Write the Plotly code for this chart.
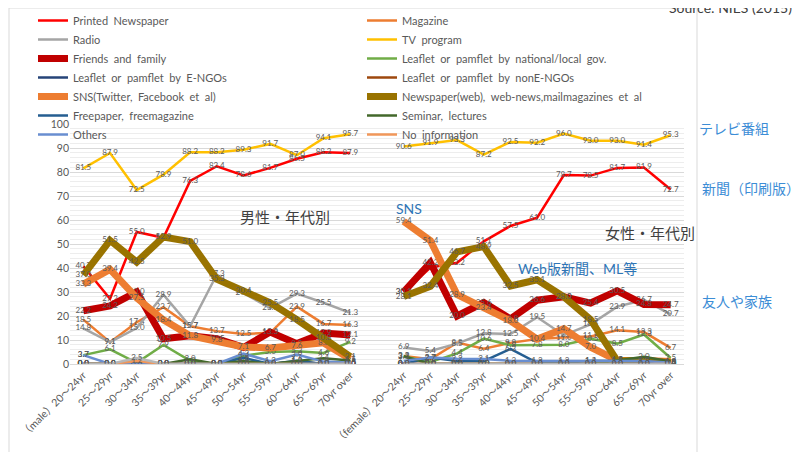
import plotly.graph_objects as go

# ---------------- data ----------------
age_labels = ["20～24yr", "25～29yr", "30～34yr", "35～39yr", "40～44yr", "45～49yr",
              "50～54yr", "55～59yr", "60～64yr", "65～69yr", "70yr over"]
male_prefix = "（male）"
female_prefix = "（female）"

series_names = [
    "Printed\u2002Newspaper", "Magazine", "Radio", "TV\u2002program", "Friends\u2002and\u2002family",
    "Leaflet\u2002or\u2002pamflet\u2002by\u2002national/local\u2002gov.",
    "Leaflet\u2002or\u2002pamflet\u2002by\u2002E-NGOs", "Leaflet\u2002or\u2002pamflet\u2002by\u2002nonE-NGOs",
    "SNS(Twitter,\u2002Facebook\u2002et\u2002al)",
    "Newspaper(web),\u2002web-news,mailmagazines\u2002et\u2002al",
    "Freepaper,\u2002freemagazine", "Seminar,\u2002lectures", "Others", "No\u2002information", "(other)"
]

printed_m = [40.7, 27.2, 55.0, 52.6, 76.3, 82.4, 78.6, 81.7, 85.5, 88.2, 87.9]
printed_f = [30.0, 40.2, 42.2, 51.1, 57.5, 61.0, 78.7, 78.5, 81.7, 81.9, 72.7]
magazine_m = [18.5, 9.1, 17.4, 23.7, 15.7, 13.7, 12.5, 13.0, 23.9, 16.7, 16.3]
magazine_f = [3.3, 2.0, 8.9, 6.4, 8.8, 10.4, 11.0, 11.5, 14.1, 13.3, 6.7]
radio_m = [14.8, 9.1, 15.0, 28.9, 15.7, 37.3, 29.5, 23.3, 29.3, 25.5, 21.3]
radio_f = [6.9, 5.4, 8.5, 12.8, 12.5, 19.5, 12.0, 16.5, 23.9, 26.7, 20.7]
tv_m = [81.5, 87.9, 72.5, 78.9, 88.2, 88.2, 89.3, 91.7, 87.0, 94.1, 95.7]
tv_f = [90.6, 91.9, 93.3, 87.2, 92.5, 92.2, 96.0, 93.0, 93.0, 91.4, 95.3]
friends_m = [22.2, 24.2, 30.0, 10.5, 11.8, 10.5, 6.9, 13.3, 8.5, 12.9, 12.1]
friends_f = [30.1, 42.2, 20.0, 25.6, 18.8, 26.6, 28.0, 25.4, 30.5, 24.8, 24.7]
gov_m = [3.7, 6.1, 0.5, 7.9, 1.3, 0.0, 3.4, 5.0, 5.3, 4.6, 9.2]
gov_f = [3.1, 0.8, 4.4, 10.6, 7.8, 7.8, 8.0, 10.5, 8.5, 12.3, 2.5]
engo_m = [0.0, 0.0, 0.0, 0.0, 0.0, 0.0, 0.9, 0.0, 0.0, 0.0, 0.0]
engo_f = [0.0, 0.0, 0.0, 0.0, 0.0, 0.0, 0.0, 0.0, 0.0, 0.0, 0.0]
nonengo_m = [0.0, 0.0, 0.0, 0.0, 0.0, 0.0, 0.0, 0.0, 1.0, 0.0, 0.5]
nonengo_f = [0.0, 0.0, 0.0, 0.0, 0.0, 0.0, 0.0, 0.0, 0.0, 1.0, 0.5]
sns_m = [33.3, 39.4, 27.5, 18.4, 11.8, 9.8, 7.1, 6.7, 7.6, 8.8, 2.1]
sns_f = [59.4, 51.4, 28.9, 23.4, 18.0, 10.4, 14.7, 7.0, 1.5, 1.5, 1.0]
web_m = [37.0, 51.5, 42.5, 52.9, 51.0, 35.3, 30.4, 25.5, 18.5, 10.8, 3.1]
web_f = [28.1, 32.4, 46.7, 48.9, 32.5, 35.1, 28.0, 18.5, 1.3, 1.5, 0.5]
free_m = [0.0, 0.0, 0.0, 0.0, 0.0, 0.0, 2.6, 0.0, 1.3, 0.0, 0.5]
free_f = [0.0, 2.7, 1.2, 1.2, 6.3, 0.5, 0.5, 1.4, 1.3, 1.0, 0.3]
seminar_m = [0.0, 0.0, 0.0, 0.0, 2.0, 0.0, 1.2, 0.0, 1.3, 2.4, 1.5]
seminar_f = [3.3, 0.0, 0.0, 0.0, 0.0, 0.0, 0.0, 0.0, 1.5, 3.0, 1.0]
others_m = [3.7, 0.0, 0.0, 0.0, 0.0, 0.0, 4.3, 1.2, 3.9, 1.0, 0.5]
others_f = [1.3, 2.7, 2.2, 2.1, 1.3, 1.3, 1.3, 1.3, 1.3, 1.3, 0.5]
noinfo_m = [0.0, 0.0, 1.2, 0.0, 0.0, 0.0, 0.0, 0.0, 0.0, 0.0, 0.0]
noinfo_f = [0.0, 0.0, 0.0, 0.0, 0.0, 0.0, 0.0, 0.0, 0.0, 0.0, 0.0]
extra_m = [0.0, 0.0, 2.5, 0.0, 0.0, 0.0, 0.0, 0.0, 0.0, 0.0, 0.0]
extra_f = [0.0, 0.0, 0.0, 0.0, 0.0, 0.0, 0.0, 0.0, 0.0, 0.0, 0.0]

series_male = [printed_m, magazine_m, radio_m, tv_m, friends_m, gov_m, engo_m, nonengo_m,
               sns_m, web_m, free_m, seminar_m, others_m, noinfo_m, extra_m]
series_female = [printed_f, magazine_f, radio_f, tv_f, friends_f, gov_f, engo_f, nonengo_f,
                 sns_f, web_f, free_f, seminar_f, others_f, noinfo_f, extra_f]

colors = ["#FF0000", "#ED7D31", "#A5A5A5", "#FFC000", "#C00000", "#70AD47", "#264478", "#9E480E",
          "#ED7D31", "#997300", "#255E91", "#43682B", "#698ED0", "#F1975A", "#B7B7B7"]
widths = [2.5, 2.5, 2.5, 2.5, 7, 2.5, 2.5, 2.5, 7, 7, 2.5, 2.5, 2.5, 2.5, 2.5]

# ---------------- build x ----------------
n = len(age_labels)
x_vals = list(range(2 * n + 1))
tick_vals = [i for i in x_vals if i != n]
tick_text = [male_prefix + age_labels[0]] + age_labels[1:] + [female_prefix + age_labels[0]] + age_labels[1:]

fig = go.Figure()
for i, name in enumerate(series_names):
    y = series_male[i] + [None] + series_female[i]
    txt = ["" if v is None else f"{v:.1f}" for v in y]
    fig.add_trace(go.Scatter(
        x=x_vals, y=y, name=name, mode="lines+text",
        line=dict(color=colors[i], width=widths[i]),
        text=txt, textposition="middle center",
        textfont=dict(size=8, color="#595959"),
        connectgaps=False,
        showlegend=(i < 14),
        hoverinfo="skip",
    ))

grey = "#595959"
blue_in = "#2E75B6"
blue_out = "#3C8DD6"
OFF = 8  # page body margin in the screenshot
W, H = 808 - OFF, 452 - OFF
L, T, pw, ph = 70 - OFF, 124 - OFF, 614, 240
R, B = W - L - pw, H - T - ph

def px(xs):  # screen pixel -> paper x
    return (xs - OFF - L) / pw

def py(ys):  # screen pixel -> paper y
    return (T + ph - (ys - OFF)) / ph

annotations = [
    dict(text="男性・年代別", x=px(285), y=py(217), font=dict(size=15, color="#404040")),
    dict(text="女性・年代別", x=px(650), y=py(233), font=dict(size=15, color="#404040")),
    dict(text="SNS", x=px(409), y=py(208), font=dict(size=14, color=blue_in)),
    dict(text="Web版新聞、ML等", x=px(577), y=py(268), font=dict(size=14, color=blue_in)),
    dict(text="テレビ番組", x=px(697), y=py(128), xanchor="left", font=dict(size=14, color=blue_out)),
    dict(text="新聞（印刷版）", x=px(700), y=py(188), xanchor="left", font=dict(size=14, color=blue_out)),
    dict(text="友人や家族", x=px(700), y=py(301), xanchor="left", font=dict(size=14, color=blue_out)),
    dict(text="Source: NIES (2015)", x=px(667), y=py(8), xanchor="left", font=dict(size=14, color="#404040")),
]
for a in annotations:
    a.update(xref="paper", yref="paper", showarrow=False)
    a.setdefault("xanchor", "center")
    a.setdefault("yanchor", "middle")

fig.update_layout(
    width=W, height=H,
    margin=dict(l=L, r=R, t=T, b=B, autoexpand=False),
    paper_bgcolor="white", plot_bgcolor="white",
    font=dict(family="Lato, 'Noto Sans CJK JP', sans-serif", color=grey),
    showlegend=True,
    legend=dict(orientation="h", x=px(33), y=py(6), xanchor="left", yanchor="top",
                entrywidth=284, entrywidthmode="pixels",
                font=dict(size=11, color=grey), bgcolor="rgba(0,0,0,0)",
                itemwidth=30, tracegroupgap=0),
    annotations=annotations,
    shapes=[dict(type="rect", xref="paper", yref="paper",
                 x0=px(9), x1=px(697), y0=py(470), y1=py(8),
                 line=dict(color="#D9D9D9", width=1), fillcolor="rgba(0,0,0,0)", layer="below")],
    xaxis=dict(range=[-0.5, 2 * n + 0.5], tickmode="array", tickvals=tick_vals, ticktext=tick_text,
               tickangle=-45, tickfont=dict(size=10.5, color=grey), showgrid=False,
               showline=True, linecolor="#D9D9D9", zeroline=False, ticks=""),
    yaxis=dict(range=[0, 100], dtick=10, tickfont=dict(size=10.5, color=grey),
               showgrid=True, gridcolor="#D9D9D9", zeroline=False, showline=False, ticks="",
               minor=dict(dtick=2, showgrid=True, gridcolor="#EDEDED")),
)

fig.write_html("out.html")
